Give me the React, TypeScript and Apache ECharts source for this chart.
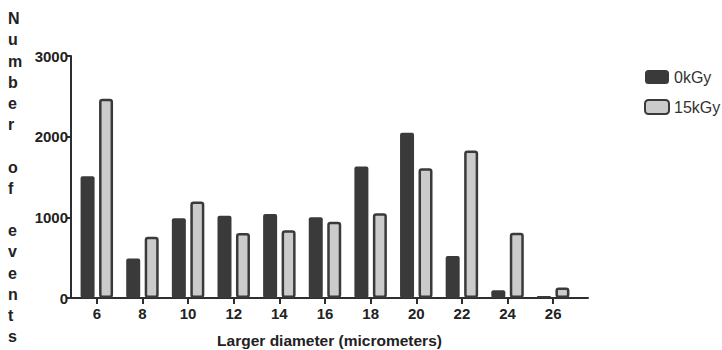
import React, { useEffect, useRef } from "react";
import * as echarts from "echarts";

const categories = ["6", "8", "10", "12", "14", "16", "18", "20", "22", "24", "26"];
const series0kGy = [1510, 490, 990, 1020, 1040, 1000, 1630, 2050, 520, 95, 25];
const series15kGy = [2470, 760, 1195, 805, 840, 945, 1050, 1610, 1830, 810, 130];
const yTitleChars = ["N", "u", "m", "b", "e", "r", "", "o", "f", "", "e", "v", "e", "n", "t", "s"];
const xTitle = "Larger diameter (micrometers)";

const FONT = "'Liberation Sans', Arial, sans-serif";
const DARK = "#3a3a3a";
const LIGHT = "#cbcbcb";
const AXIS = "#2e2e2e";

export default function App() {
  const ref = useRef<HTMLDivElement>(null);
  useEffect(() => {
    if (!ref.current) return;
    const chart = echarts.init(ref.current, undefined, { renderer: "svg" });
    chart.setOption({
      animation: false,
      backgroundColor: "#ffffff",
      textStyle: { fontFamily: FONT },
      grid: [
        { left: 74, right: 146, top: 56, bottom: 52, outerBoundsMode: "none", containLabel: false },
        { left: 71, right: 134, top: 56, bottom: 52, outerBoundsMode: "none", containLabel: false },
      ],
      legend: {
        orient: "vertical",
        left: 639,
        top: 64,
        itemWidth: 24,
        itemHeight: 14,
        itemGap: 14,
        icon: "roundRect",
        textStyle: { fontSize: 16, color: "#333", fontFamily: FONT },
        data: ["0kGy", "15kGy"],
      },
      xAxis: [
        {
          type: "category",
          gridIndex: 0,
          data: categories,
          axisLine: { show: false },
          axisTick: { show: true, alignWithLabel: true, length: 6, lineStyle: { color: AXIS, width: 2 } },
          axisLabel: { fontSize: 15, fontWeight: "bold", color: "#222", margin: 8, fontFamily: FONT },
        },
        {
          type: "value",
          gridIndex: 1,
          min: 0,
          max: 1,
          position: "bottom",
          axisLine: { show: true, onZero: false, lineStyle: { color: AXIS, width: 2 } },
          axisTick: { show: false },
          axisLabel: { show: false },
          splitLine: { show: false },
          name: xTitle,
          nameLocation: "middle",
          nameGap: 34,
          nameTextStyle: { fontSize: 15.5, fontWeight: "bold", color: "#222", fontFamily: FONT },
        },
      ],
      yAxis: [
        {
          type: "value",
          gridIndex: 0,
          min: 0,
          max: 3000,
          interval: 1000,
          offset: 3,
          axisLine: { show: true, lineStyle: { color: AXIS, width: 2 } },
          axisTick: { show: true, length: 5, lineStyle: { color: AXIS, width: 2 } },
          axisLabel: {
            fontSize: 15,
            fontWeight: "bold",
            color: "#222",
            margin: 3,
            fontFamily: FONT,
            formatter: (v: number) => String(v),
          },
          splitLine: { show: false },
        },
        {
          type: "value",
          gridIndex: 1,
          min: 0,
          max: 3000,
          show: false,
        },
      ],
      graphic: [
        {
          type: "text",
          left: 8,
          top: 8,
          style: {
            text: yTitleChars.join("\n"),
            font: `bold 16px ${FONT}`,
            lineHeight: 21.2,
            fill: "#222",
            align: "center",
          },
        },
      ],
      series: [
        {
          name: "0kGy",
          type: "bar",
          xAxisIndex: 0,
          yAxisIndex: 0,
          data: series0kGy,
          barWidth: 14,
          barGap: "32%",
          itemStyle: { color: DARK, borderRadius: 2 },
        },
        {
          name: "15kGy",
          type: "bar",
          xAxisIndex: 0,
          yAxisIndex: 0,
          data: series15kGy,
          barWidth: 14,
          itemStyle: { color: LIGHT, borderColor: DARK, borderWidth: 2.5, borderRadius: 2 },
        },
      ],
    });
    return () => chart.dispose();
  }, []);
  return <div ref={ref} style={{ width: 722, height: 350, position: "absolute", left: 0, top: 0 }} />;
}
